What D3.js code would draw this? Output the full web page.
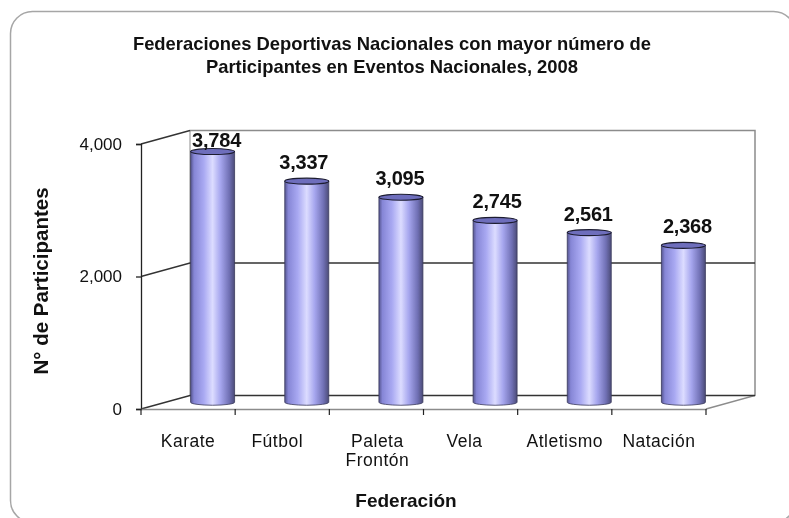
<!DOCTYPE html>
<html>
<head>
<meta charset="utf-8">
<script src="https://cdn.jsdelivr.net/npm/d3@7"></script>
<style>
body { margin: 0; background: #fff; }
svg { filter: blur(0.45px); }
text { font-family: "Liberation Sans", Arial, sans-serif; fill: #111; }
</style>
</head>
<body>
<div id="chart"></div>
<script>
const width = 789;
const height = 518;

const categories = ["Karate", "Fútbol", "Paleta Frontón", "Vela", "Atletismo", "Natación"];
const values = [3784, 3337, 3095, 2745, 2561, 2368];
const yTicks = [0, 2000, 4000];
const titleLines = ["Federaciones Deportivas Nacionales con mayor número de", "Participantes en Eventos Nacionales, 2008"];

const plot = { left: 141, right: 706, top: 144, bottom: 409 };
const depth = { x: 49, y: -13.5 }; // 3d offset of back wall

// small hand nudges, labels in the original are not quite centred
const valueNudge = [4, -3, -1, 2, -1, 4];
const labelNudge = [0, -5, 1, -6, 0, 0];

const xScale = d3.scaleBand()
    .domain(categories)
    .range([plot.left, plot.right]);

const yScale = d3.scaleLinear()
    .domain([0, 4000])
    .range([plot.bottom, plot.top]);

const svg = d3.select("#chart").append("svg").attr("width", width).attr("height", height);

// outer rounded frame, runs off the picture on the right and bottom
svg.append("rect")
    .attr("x", 10.5)
    .attr("y", 11.5)
    .attr("width", 785)
    .attr("height", 511)
    .attr("rx", 22)
    .attr("fill", "#fff")
    .attr("stroke", "#a6a6a6")
    .attr("stroke-width", 1.5);

const defs = svg.append("defs");
const grad = defs.append("linearGradient").attr("id", "cyl");
[[0, "#55558f"], [0.08, "#8686d6"], [0.3, "#a9a9f2"], [0.5, "#dcdcff"], [0.68, "#a6a6ee"], [0.88, "#7070b4"], [1, "#4c4c78"]]
    .forEach(d => grad.append("stop").attr("offset", d[0]).attr("stop-color", d[1]));

// walls and floor
const wall = svg.append("g").attr("fill", "none");

wall.append("path")
    .attr("d", `M${plot.left + depth.x},${yScale(4000) + depth.y}H${plot.right + depth.x}V${yScale(0) + depth.y}L${plot.right},${yScale(0)}`)
    .attr("stroke", "#8c8c8c")
    .attr("stroke-width", 1.5);

wall.append("line")
    .attr("x1", plot.left + depth.x).attr("x2", plot.left + depth.x)
    .attr("y1", yScale(4000) + depth.y).attr("y2", yScale(0) + depth.y)
    .attr("stroke", "#8c8c8c")
    .attr("stroke-width", 1);

wall.selectAll("path.grid")
    .data(yTicks)
    .join("path")
    .attr("class", "grid")
    .attr("d", d => d === 4000
        ? `M${plot.left},${yScale(d)}l${depth.x},${depth.y}`
        : `M${plot.left},${yScale(d)}l${depth.x},${depth.y}H${plot.right + depth.x}`)
    .attr("stroke", "#333")
    .attr("stroke-width", 1.3);

// axes
const yAxis = d3.axisLeft(yScale).tickValues(yTicks).tickFormat(d3.format(",")).tickSize(5).tickPadding(14);
const yG = svg.append("g").attr("transform", `translate(${plot.left},0)`).call(yAxis);
yG.selectAll("path,line").attr("stroke", "#222").attr("stroke-width", 1.3);
yG.selectAll("text").attr("font-size", 17);

const xAxis = d3.axisBottom(xScale).tickValues([]).tickSizeOuter(0);
const xG = svg.append("g").attr("transform", `translate(0,${plot.bottom})`).call(xAxis);
xG.select("path").attr("stroke", "#8c8c8c").attr("stroke-width", 1.3);

// ticks sit on band edges
svg.append("g").selectAll("line")
    .data(categories)
    .join("line")
    .attr("x1", d => xScale(d) + xScale.bandwidth())
    .attr("x2", d => xScale(d) + xScale.bandwidth())
    .attr("y1", plot.bottom)
    .attr("y2", plot.bottom + 6)
    .attr("stroke", "#222")
    .attr("stroke-width", 1.2);
svg.append("line")
    .attr("x1", plot.left).attr("x2", plot.left)
    .attr("y1", plot.bottom).attr("y2", plot.bottom + 6)
    .attr("stroke", "#222").attr("stroke-width", 1.2);

// x labels, Paleta Frontón wraps
const xLabels = svg.append("g").selectAll("text")
    .data(categories)
    .join("text")
    .attr("text-anchor", "middle")
    .attr("font-size", 17.5)
    .attr("letter-spacing", 0.5)
    .attr("y", 446);
xLabels.each(function (d, i) {
    const cx = xScale(d) + xScale.bandwidth() / 2 + labelNudge[i];
    d.split(" ").forEach((w, j) => {
        d3.select(this).append("tspan").attr("x", cx).attr("y", 447 + j * 19).text(w);
    });
});

// cylinders
const rx = 22;
const ry = 3;
const barG = svg.selectAll("g.bar")
    .data(categories.map((c, i) => ({ name: c, value: values[i], nudge: valueNudge[i] })))
    .join("g")
    .attr("class", "bar")
    .attr("transform", d => `translate(${xScale(d.name) + xScale.bandwidth() / 2 + depth.x / 2},${depth.y / 2})`);

barG.append("path")
    .attr("d", d => `M${-rx},${yScale(d.value)}V${yScale(0)}A${rx},${ry} 0 0 0 ${rx},${yScale(0)}V${yScale(d.value)}Z`)
    .attr("fill", "url(#cyl)")
    .attr("stroke", "#3a3a5c")
    .attr("stroke-width", 0.8);

barG.append("ellipse")
    .attr("cx", 0)
    .attr("cy", d => yScale(d.value))
    .attr("rx", rx)
    .attr("ry", ry)
    .attr("fill", "#6e6ebc")
    .attr("stroke", "#1c1c30")
    .attr("stroke-width", 1.1);

// the tallest label is pushed down against the top of the plot
barG.append("text")
    .attr("x", d => d.nudge)
    .attr("y", d => Math.max(yScale(d.value) - 12, yScale(4000) + 10))
    .attr("text-anchor", "middle")
    .attr("font-size", 20)
    .attr("letter-spacing", -0.2)
    .attr("font-weight", 700)
    .text(d => d3.format(",")(d.value));

// titles
svg.append("g").selectAll("text")
    .data(titleLines)
    .join("text")
    .attr("x", 392)
    .attr("y", (d, i) => 50 + i * 23)
    .attr("text-anchor", "middle")
    .attr("font-size", 18.4)
    .attr("font-weight", 700)
    .text(d => d);

svg.append("text")
    .attr("x", 406)
    .attr("y", 507)
    .attr("text-anchor", "middle")
    .attr("font-size", 19)
    .attr("font-weight", 700)
    .text("Federación");

svg.append("text")
    .attr("transform", "translate(48,281) rotate(-90)")
    .attr("text-anchor", "middle")
    .attr("font-size", 20.5)
    .attr("font-weight", 700)
    .text("N° de Participantes");
</script>
</body>
</html>
